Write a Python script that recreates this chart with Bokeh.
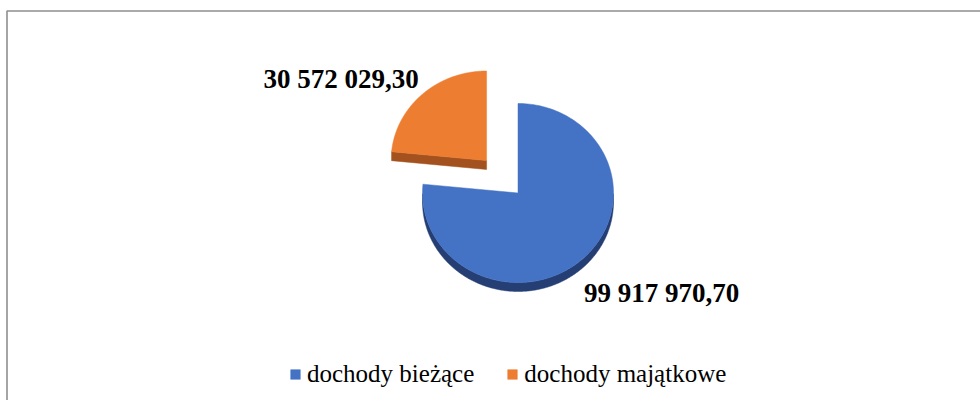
import numpy as np
from bokeh.plotting import figure
from bokeh.models import Range1d, Legend, LegendItem, ColumnDataSource
from bokeh.embed import file_html
from bokeh.resources import INLINE
from bokeh.core.properties import value

# ---- data ----
categories = ["dochody bieżące", "dochody majątkowe"]
values = [99917970.70, 30572029.30]
value_labels = ["99 917 970,70", "30 572 029,30"]

# ---- style / layout ----
colors = ["#4472C4", "#ED7D31"]
side_colors = ["#253F74", "#A3521F"]
explode = [0.0, 0.49]
label_dx = [143.5, -145.5]
label_dy = [-99.5, 81.5]
FONT = "Liberation Serif"

W, H = 980, 400
CX, CY = 517.5, 207.5      # pie centre (px in frame)
RX, RY = 95.5, 89.5        # ellipse radii of the top face
DEPTH = 9.0                # 3-D thickness

p = figure(width=W, height=H, output_backend="svg", toolbar_location=None,
           x_range=Range1d(0, W), y_range=Range1d(0, H), min_border=0,
           x_axis_location=None, y_axis_location=None)
p.grid.visible = False
p.outline_line_color = None
p.background_fill_color = "white"

# chart-area border (top and left visible in the window)
p.line(x=[6.5, 6.5, W], y=[0, 389.5, 389.5], line_color="#8f8f8f", line_width=1.6)

total = float(sum(values))
fracs = [v / total for v in values]

top_xs, top_ys = [], []
side_xs, side_ys, side_cols = [], [], []
lab_x, lab_y = [], []

cum = 0.0
for i, f in enumerate(fracs):
    a_start = 90.0 - cum * 360.0          # clockwise from 12 o'clock
    a_end = 90.0 - (cum + f) * 360.0
    cum += f
    lo, hi = a_end, a_start               # ccw range
    mid = np.radians((lo + hi) / 2.0)
    cx = CX + explode[i] * np.cos(mid) * RX
    cy = CY + explode[i] * np.sin(mid) * RY

    t = np.radians(np.linspace(lo, hi, 200))
    ax = cx + RX * np.cos(t)
    ay = cy + RY * np.sin(t)

    # outer arc side (visible where sin < 0)
    deg = np.linspace(lo, hi, 400)
    vis = np.sin(np.radians(deg)) < 0
    if vis.any():
        d = np.radians(deg[vis])
        sx = cx + RX * np.cos(d)
        sy = cy + RY * np.sin(d)
        side_xs.append(list(sx) + list(sx[::-1]))
        side_ys.append(list(sy) + list((sy - DEPTH)[::-1]))
        side_cols.append(side_colors[i])
    # radial edge sides
    for ang, sign in ((np.radians(hi), -1), (np.radians(lo), 1)):
        if sign * np.cos(ang) > 1e-6:
            ex = cx + RX * np.cos(ang)
            ey = cy + RY * np.sin(ang)
            side_xs.append([cx, ex, ex, cx])
            side_ys.append([cy, ey, ey - DEPTH, cy - DEPTH])
            side_cols.append(side_colors[i])

    top_xs.append([cx] + list(ax))
    top_ys.append([cy] + list(ay))
    lab_x.append(cx + label_dx[i])
    lab_y.append(cy + label_dy[i])

p.patches(xs=side_xs, ys=side_ys, fill_color=side_cols, line_color=side_cols, line_width=0.5)

src = ColumnDataSource(dict(xs=top_xs, ys=top_ys, color=colors, name=categories))
r = p.patches(xs="xs", ys="ys", fill_color="color", line_color="color", line_width=0.5, source=src)

p.text(x=lab_x, y=lab_y, text=value_labels, text_font=value(FONT),
       text_font_style="bold", text_font_size="27px", text_color="#000000",
       text_align="center", text_baseline="middle")

legend = Legend(items=[LegendItem(label=categories[i], renderers=[r], index=i) for i in range(len(categories))],
                orientation="horizontal", location=(289, 12),
                glyph_width=12, glyph_height=12, label_standoff=6, spacing=32,
                padding=0, margin=0, border_line_color=None, background_fill_alpha=0,
                label_text_font=FONT, label_text_font_size="25px",
                label_text_color="#000000")
p.add_layout(legend)

open("out.html", "w").write(file_html(p, INLINE))
